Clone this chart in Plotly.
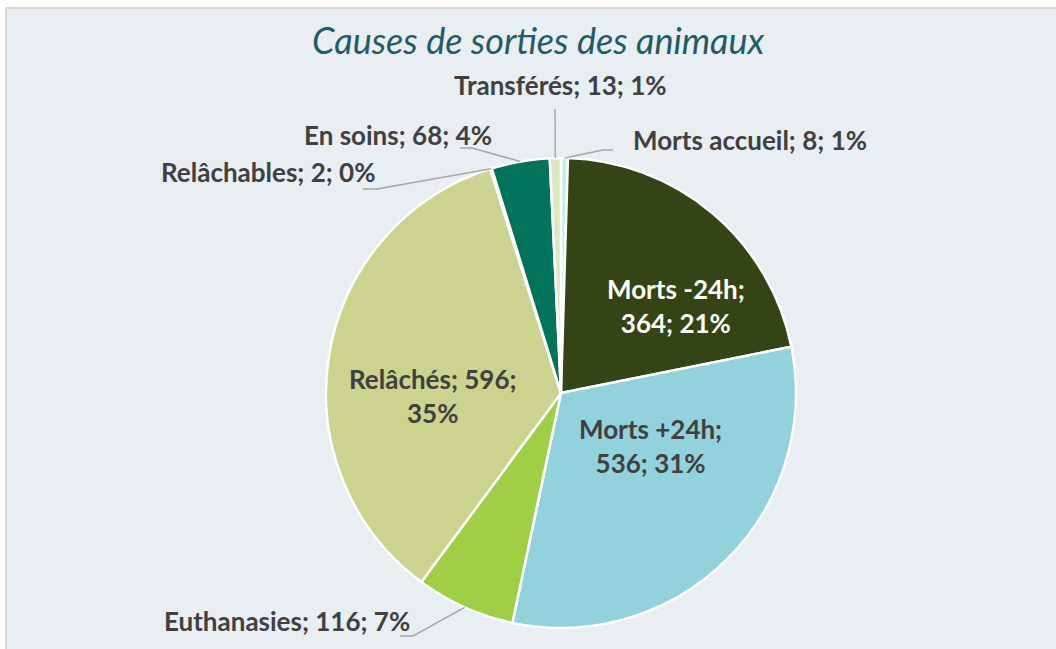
import math
import plotly.graph_objects as go

# ---- data ----
categories = ["Morts accueil", "Morts -24h", "Morts +24h", "Euthanasies",
              "Relâchés", "Relâchables", "En soins", "Transférés"]
values = [8, 364, 536, 116, 596, 2, 68, 13]
pct_labels = [1, 21, 31, 7, 35, 0, 4, 1]
colors = ["#b9f1ee", "#354414", "#92d2dc", "#9fcf45",
          "#ccd38e", "#8fbf60", "#00735a", "#dde8bd"]
title_text = "Causes de sorties des animaux"

# ---- layout constants ----
W, H = 1056, 649
CX, CY, R = 561, 393, 235

def px(x):
    return x / W

def py(y):
    return 1 - y / H

total = sum(values)

fig = go.Figure()
fig.add_trace(go.Pie(
    labels=categories, values=values, sort=False, direction="clockwise",
    rotation=0, textinfo="none", hoverinfo="label+value+percent",
    marker=dict(colors=colors, line=dict(color="white", width=2.5)),
    domain=dict(x=[px(CX - R), px(CX + R)], y=[py(CY + R), py(CY - R)]),
    showlegend=False,
))

FONT = "Lato"
GREY = "#404040"
FS = 26

annotations = [dict(x=px(538), y=py(40), xref="paper", yref="paper",
                    xanchor="center", yanchor="middle",
                    text="<i>" + title_text + "</i>", showarrow=False,
                    font=dict(family=FONT, size=36, color="#1f5d65"))]

inside = {"Morts -24h": (676, 306, "white"),
          "Morts +24h": (650, 446, GREY),
          "Relâchés": (433, 396, GREY)}
breaks = {"Morts -24h": ("Morts -24h;", "{v}; {p}%"),
          "Morts +24h": ("Morts +24h;", "{v}; {p}%"),
          "Relâchés": ("Relâchés; {v};", "{p}%")}
outside = {"Transférés": ((560, 85), [(555, 109)]),
           "Morts accueil": ((750, 140), [(613, 150), (603, 150)]),
           "En soins": ((398, 135), [(460, 148), (472, 148)]),
           "Relâchables": ((268, 172), [(363, 189), (377, 189)]),
           "Euthanasies": ((287, 621), [(400, 636), (413, 636)])}

shapes = [dict(type="rect", xref="paper", yref="paper", x0=px(6), x1=1.05,
               y0=-0.05, y1=py(8), fillcolor="#e8eef1",
               line=dict(color="#d9d9d9", width=2), layer="below")]

cum = 0
for cat, v, p in zip(categories, values, pct_labels):
    mid = (cum + v / 2) / total * 2 * math.pi
    cum += v
    ex = CX + R * math.sin(mid)
    ey = CY - R * math.cos(mid)
    if cat in inside:
        x, y, col = inside[cat]
        l1, l2 = breaks[cat]
        txt = l1.format(v=v, p=p) + "<br>" + l2.format(v=v, p=p)
        annotations.append(dict(x=px(x), y=py(y), xref="paper", yref="paper",
                                xanchor="center", yanchor="middle",
                                text="<b>" + txt + "</b>", showarrow=False,
                                align="center",
                                font=dict(family=FONT, size=FS, color=col)))
    elif cat in outside:
        (lx, ly), pts = outside[cat]
        annotations.append(dict(x=px(lx), y=py(ly), xref="paper", yref="paper",
                                xanchor="center", yanchor="middle",
                                text="<b>%s; %d; %d%%</b>" % (cat, v, p),
                                showarrow=False,
                                font=dict(family=FONT, size=FS, color=GREY)))
        path_pts = pts + [(ex, ey)]
        path = "M " + " L ".join("%f,%f" % (px(a), py(b)) for a, b in path_pts)
        shapes.append(dict(type="path", xref="paper", yref="paper", path=path,
                           line=dict(color="#a6a6a6", width=1.5)))

fig.update_layout(width=W, height=H, margin=dict(l=0, r=0, t=0, b=0),
                  paper_bgcolor="white", plot_bgcolor="white",
                  annotations=annotations, shapes=shapes)
fig.write_html("out.html", config={"displayModeBar": False},
               post_script="document.body.style.margin='0';"
                           "document.body.style.overflow='hidden';")
